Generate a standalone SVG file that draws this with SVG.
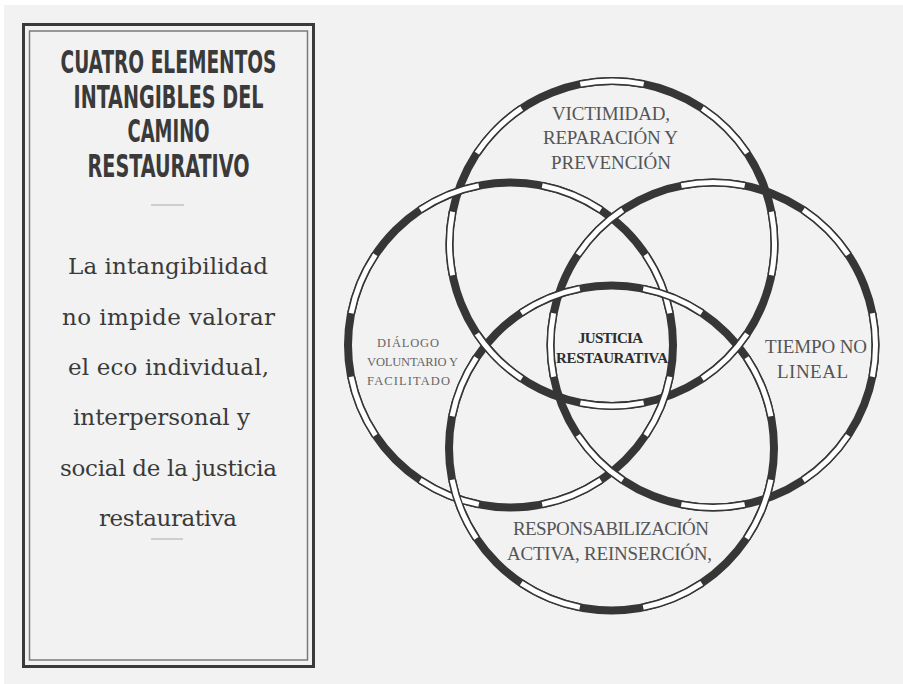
<svg xmlns="http://www.w3.org/2000/svg" width="903" height="684" viewBox="0 0 903 684">
<style>
.title{font-family:"Liberation Sans Narrow","DejaVu Sans Condensed","Liberation Sans",sans-serif;font-weight:bold;font-size:32px;fill:#3a3a3a;text-anchor:middle}
.body{font-family:"DejaVu Serif","Liberation Serif",serif;font-size:23px;fill:#3a3a3a;text-anchor:middle}
.lbl{font-family:"Liberation Serif","Times New Roman",serif;font-size:19px;fill:#555;text-anchor:middle}
.lbls{font-family:"Liberation Serif","Times New Roman",serif;font-size:12.5px;fill:#666;text-anchor:middle}
.core{font-family:"Liberation Serif","Times New Roman",serif;font-size:15px;font-weight:bold;fill:#2e2e2e;text-anchor:middle}
.band{fill:none;stroke:#363636;stroke-width:8}
.wd{fill:none;stroke:#363636;stroke-width:8}
.wg{fill:none;stroke:#ffffff;stroke-width:5}
.rule{stroke:#aaaaaa;stroke-width:1}
</style>
<defs>
  <path id="w-top" d="M771.378,211.798 A162.5,162.5 0 0 1 771.378,275.202 M747.114,333.780 A162.5,162.5 0 0 1 702.280,378.614 M643.702,402.878 A162.5,162.5 0 0 1 580.298,402.878 M521.720,378.614 A162.5,162.5 0 0 1 476.886,333.780 M452.622,275.202 A162.5,162.5 0 0 1 452.622,211.798 M476.886,153.220 A162.5,162.5 0 0 1 521.720,108.386 M580.298,84.122 A162.5,162.5 0 0 1 643.702,84.122 M702.280,108.386 A162.5,162.5 0 0 1 747.114,153.220"/>
  <path id="w-right" d="M872.378,313.298 A162.5,162.5 0 0 1 872.378,376.702 M848.114,435.280 A162.5,162.5 0 0 1 803.280,480.114 M744.702,504.378 A162.5,162.5 0 0 1 681.298,504.378 M622.720,480.114 A162.5,162.5 0 0 1 577.886,435.280 M553.622,376.702 A162.5,162.5 0 0 1 553.622,313.298 M577.886,254.720 A162.5,162.5 0 0 1 622.720,209.886 M681.298,185.622 A162.5,162.5 0 0 1 744.702,185.622 M803.280,209.886 A162.5,162.5 0 0 1 848.114,254.720"/>
  <path id="w-left" d="M669.878,376.702 A162.5,162.5 0 0 1 645.614,435.280 M600.780,480.114 A162.5,162.5 0 0 1 542.202,504.378 M478.798,504.378 A162.5,162.5 0 0 1 420.220,480.114 M375.386,435.280 A162.5,162.5 0 0 1 351.122,376.702 M351.122,313.298 A162.5,162.5 0 0 1 375.386,254.720 M420.220,209.886 A162.5,162.5 0 0 1 478.798,185.622 M542.202,185.622 A162.5,162.5 0 0 1 600.780,209.886 M645.614,254.720 A162.5,162.5 0 0 1 669.878,313.298"/>
  <path id="w-bottom" d="M770.878,479.702 A162.5,162.5 0 0 1 746.614,538.280 M701.780,583.114 A162.5,162.5 0 0 1 643.202,607.378 M579.798,607.378 A162.5,162.5 0 0 1 521.220,583.114 M476.386,538.280 A162.5,162.5 0 0 1 452.122,479.702 M452.122,416.298 A162.5,162.5 0 0 1 476.386,357.720 M521.220,312.886 A162.5,162.5 0 0 1 579.798,288.622 M643.202,288.622 A162.5,162.5 0 0 1 701.780,312.886 M746.614,357.720 A162.5,162.5 0 0 1 770.878,416.298"/>
</defs>
<rect x="0" y="0" width="903" height="684" fill="#ffffff"/>
<rect x="4" y="5" width="899" height="679" fill="#f2f2f2"/>

<g id="panel">
  <rect x="23.5" y="24.5" width="290" height="642" fill="none" stroke="#3a3a3a" stroke-width="3"/>
  <rect x="29.5" y="31" width="278" height="629" fill="none" stroke="#7a7a7a" stroke-width="1.5"/>
  <text class="title" x="168.5" y="73" textLength="216" lengthAdjust="spacingAndGlyphs">CUATRO ELEMENTOS</text>
  <text class="title" x="168.5" y="107.5" textLength="190" lengthAdjust="spacingAndGlyphs">INTANGIBLES DEL</text>
  <text class="title" x="168.5" y="142" textLength="82" lengthAdjust="spacingAndGlyphs">CAMINO</text>
  <text class="title" x="168.5" y="176.5" textLength="162" lengthAdjust="spacingAndGlyphs">RESTAURATIVO</text>
  <line class="rule" x1="151" y1="205" x2="184" y2="205"/>
  <text class="body" x="168" y="274" textLength="200">La intangibilidad</text>
  <text class="body" x="168.5" y="325" textLength="213">no impide valorar</text>
  <text class="body" x="168.5" y="375" textLength="201">el eco individual,</text>
  <text class="body" x="161.5" y="425" textLength="177">interpersonal y</text>
  <text class="body" x="168.5" y="476" textLength="217">social de la justicia</text>
  <text class="body" x="168" y="526" textLength="138">restaurativa</text>
  <line class="rule" x1="151" y1="539" x2="183" y2="539"/>
</g>

<g id="connectors">
  <g id="ring-bases">
    <circle class="band" cx="612" cy="243.5" r="162.5"/>
    <circle class="band" cx="510.5" cy="345" r="162.5"/>
    <circle class="band" cx="713" cy="345" r="162.5"/>
    <circle class="band" cx="611.5" cy="448" r="162.5"/>
  </g>
  <g id="ring-top">
    <use class="wd" href="#w-top"/>
    <use class="wg" href="#w-top"/>
  </g>
  <g id="ring-left">
    <use class="wd" href="#w-left"/>
    <use class="wg" href="#w-left"/>
  </g>
  <g id="ring-right">
    <use class="wd" href="#w-right"/>
    <use class="wg" href="#w-right"/>
  </g>
  <g id="ring-bottom">
    <use class="wd" href="#w-bottom"/>
    <use class="wg" href="#w-bottom"/>
  </g>
</g>

<g id="node-top">
  <text class="lbl" x="611" y="120" textLength="118">VICTIMIDAD,</text>
  <text class="lbl" x="610.5" y="144" textLength="135">REPARACIÓN Y</text>
  <text class="lbl" x="611" y="169" textLength="120">PREVENCIÓN</text>
</g>
<g id="node-left">
  <text class="lbls" x="408" y="347" textLength="62">DIÁLOGO</text>
  <text class="lbls" x="412.5" y="366" textLength="91">VOLUNTARIO Y</text>
  <text class="lbls" x="408.5" y="385" textLength="83">FACILITADO</text>
</g>
<g id="node-right">
  <text class="lbl" x="816" y="353" textLength="102">TIEMPO NO</text>
  <text class="lbl" x="812.5" y="378" textLength="71">LINEAL</text>
</g>
<g id="node-bottom">
  <text class="lbl" x="611" y="535" textLength="196">RESPONSABILIZACIÓN</text>
  <text class="lbl" x="609.5" y="560" textLength="205">ACTIVA, REINSERCIÓN,</text>
</g>
<g id="node-center">
  <text class="core" x="610.5" y="343" textLength="65">JUSTICIA</text>
  <text class="core" x="612" y="363" textLength="112">RESTAURATIVA</text>
</g>
</svg>
